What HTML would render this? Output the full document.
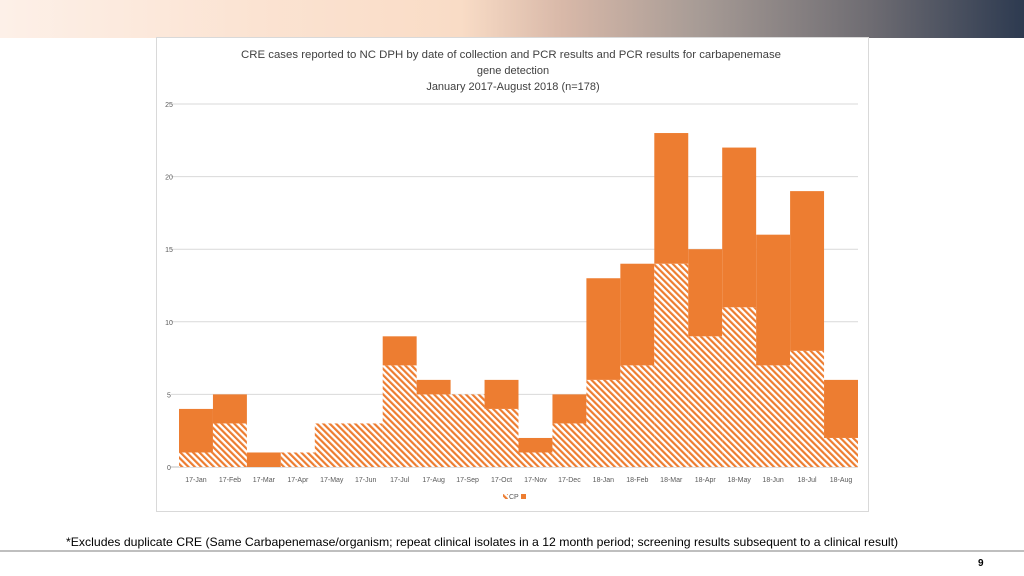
<!DOCTYPE html>
<html><head><meta charset="utf-8"><style>
body{margin:0;width:1024px;height:576px;background:#fff;position:relative;overflow:hidden;font-family:"Liberation Sans",sans-serif}
#banner{position:absolute;left:0;top:0;width:1024px;height:38px;background:linear-gradient(90deg,#fdf0e8 0%,#fbe3d2 25%,#f9dcc6 45%,#d8b8a8 55%,#a89c96 68%,#6e6c72 85%,#2d3a50 100%)}
#chartbox{position:absolute;left:156px;top:37px;width:711px;height:473px;border:1px solid #d9d9d9;background:#fff}
#foot{position:absolute;left:66px;top:535px;font-size:12px;color:#000;transform-origin:0 0;transform:scaleX(1.02);white-space:nowrap}
#rule{position:absolute;left:0;top:550px;width:1024px;height:2px;background:#bfbfbf}
#pg{position:absolute;left:978px;top:558px;font-size:10px;font-weight:bold}
</style></head><body>
<div id="banner"></div>
<svg id="chartbox" width="711" height="473" viewBox="156 37 711 473">
<defs><pattern id="hatch" patternUnits="userSpaceOnUse" width="4.5" height="4.5" patternTransform="rotate(-45)">
<rect width="4.5" height="4.5" fill="#fff"/><rect width="2.2" height="4.5" fill="#ed7d31"/></pattern></defs>
<g font-family="Liberation Sans, sans-serif" fill="#404040" text-anchor="middle" font-size="11">
<text x="510" y="57" textLength="540" lengthAdjust="spacingAndGlyphs">CRE cases reported to NC DPH by date of collection and PCR results and PCR results for carbapenemase</text>
<text x="512" y="73">gene detection</text>
<text x="512" y="89">January 2017-August 2018 (n=178)</text>
</g>
<g id="grid"></g><g id="bars"></g><g id="labels"></g>
<g font-family="Liberation Sans, sans-serif" font-size="7" fill="#595959">
<rect x="502" y="493" width="5" height="5" fill="url(#hatch)"/><text x="508" y="498">CP</text>
<rect x="520" y="493" width="5" height="5" fill="#ed7d31"/></g>
</svg>
<div id="foot">*Excludes duplicate CRE (Same Carbapenemase/organism; repeat clinical isolates in a 12 month period; screening results subsequent to a clinical result)</div>
<div id="rule"></div>
<div id="pg">9</div>
<script>
const categories=["17-Jan","17-Feb","17-Mar","17-Apr","17-May","17-Jun","17-Jul","17-Aug","17-Sep","17-Oct","17-Nov","17-Dec","18-Jan","18-Feb","18-Mar","18-Apr","18-May","18-Jun","18-Jul","18-Aug"];
const cpValues=[1,3,0,1,3,3,7,5,5,4,1,3,6,7,14,9,11,7,8,2];
const otherValues=[3,2,1,0,0,0,2,1,0,2,1,2,7,7,9,6,11,9,11,4];
const yTicks=[0,5,10,15,20,25];
const NS="http://www.w3.org/2000/svg";
const x0=178,x1=857,y0=466,y1=103,yMax=25;
const bw=(x1-x0)/categories.length;
const X=i=>x0+i*bw;
const Y=v=>y0-(v/yMax)*(y0-y1);
function mk(t,a,p){const e=document.createElementNS(NS,t);for(const k in a)e.setAttribute(k,a[k]);p.appendChild(e);return e;}
const grid=document.getElementById('grid'),bars=document.getElementById('bars'),labels=document.getElementById('labels');
yTicks.forEach(t=>{
 const l=mk('line',{x1:x0-8,x2:x1,y1:Y(t),y2:Y(t),stroke:t===0?'#bfbfbf':'#d9d9d9','stroke-width':1},grid);
 
 
 const tx=mk('text',{x:168,y:Y(t)+3,'font-size':7,fill:'#595959','text-anchor':'middle','font-family':'Liberation Sans, sans-serif'},labels);
 tx.textContent=t;
 
 
});
categories.forEach((c,i)=>{
 if(cpValues[i]>0){const r=mk('rect',{x:X(i),y:Y(cpValues[i]),width:bw,height:Y(0)-Y(cpValues[i]),fill:'url(#hatch)'},bars);
 
 }
 if(otherValues[i]>0){const r2=mk('rect',{x:X(i),y:Y(cpValues[i]+otherValues[i]),width:bw,height:Y(cpValues[i])-Y(cpValues[i]+otherValues[i]),fill:'#ed7d31'},bars);
 
 }
 const t=mk('text',{x:X(i)+bw/2,y:481,'font-size':7,fill:'#595959','text-anchor':'middle','font-family':'Liberation Sans, sans-serif'},labels);
 t.textContent=c;
 
 
});
</script>
</body></html>
